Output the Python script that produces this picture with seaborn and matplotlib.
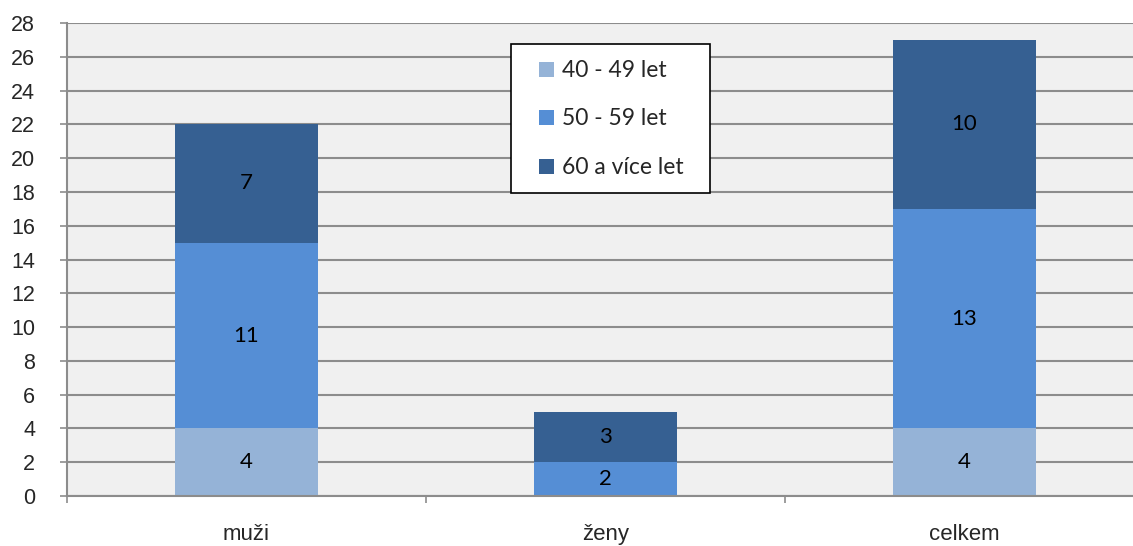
import matplotlib
matplotlib.use("Agg")
import matplotlib.pyplot as plt
from matplotlib.lines import Line2D
import seaborn as sns
import numpy as np

categories = ["muži", "ženy", "celkem"]
series_names = ["40 - 49 let", "50 - 59 let", "60 a více let"]
v_40_49 = [4, 0, 4]
v_50_59 = [11, 2, 13]
v_60 = [7, 3, 10]
y_ticks = list(range(0, 29, 2))

colors = ["#95B3D7", "#558ED5", "#366092"]

sns.set_theme(style="white")
plt.rcParams["font.family"] = ["Liberation Sans", "DejaVu Sans"]

fig = plt.figure(figsize=(11.33, 5.46), dpi=100)
ax = fig.add_axes([67/1133, 50/546, (1144-67)/1133, (496-23)/546])
ax.set_facecolor("#F0F0F0")

bottom = np.zeros(len(categories))
for name, vals, col in zip(series_names, [v_40_49, v_50_59, v_60], colors):
    sns.barplot(x=categories, y=vals, bottom=bottom, color=col, width=0.4,
                ax=ax, linewidth=0, saturation=1)
    cont = ax.containers[-1]
    labels = [str(v) if v > 0 else "" for v in vals]
    ax.bar_label(cont, labels=labels, label_type="center", fontsize=16,
                 color="black", family=["Lato", "DejaVu Sans"])
    bottom = bottom + np.array(vals)

ax.set_xlim(-0.5, 2.5)
ax.set_ylim(0, 28)
ax.set_yticks(y_ticks)
ax.set_yticklabels([str(t) for t in y_ticks], fontsize=15.5)
ax.yaxis.grid(True, color="#8C8C8C", linewidth=1.5)
ax.set_axisbelow(True)
ax.tick_params(axis="y", length=5, width=1.2, color="#8C8C8C", direction="out", left=True, pad=18)
ax.set_xticks([0, 1, 2])
ax.set_xticklabels(categories, fontsize=16)
ax.set_xticks([-0.5, 0.5, 1.5, 2.5], minor=True)
ax.tick_params(axis="x", which="major", length=0, pad=20)
ax.tick_params(axis="x", which="minor", length=5, width=1.2, color="#8C8C8C", direction="out", bottom=True)
for s in ["top", "right"]:
    ax.spines[s].set_visible(False)
for s in ["left", "bottom"]:
    ax.spines[s].set_color("#8C8C8C")
    ax.spines[s].set_linewidth(1.5)
ax.set_xlabel("")
ax.set_ylabel("")

handles = [Line2D([], [], linestyle="none", marker="s", markersize=10.8,
                  markerfacecolor=c, markeredgewidth=0) for c in colors]
x0 = (511 - 67) / 1077
w = (710 - 511) / 1077
ytop = (496 - 44) / 473
leg = ax.legend(handles, series_names, loc="upper left",
                bbox_to_anchor=(x0, ytop - 0.3, w, 0.3), mode="expand",
                frameon=True, fancybox=False, edgecolor="black", facecolor="white",
                framealpha=1, prop={"family": ["Lato", "DejaVu Sans"], "size": 16.5},
                handlelength=1.68, handletextpad=-0.15,
                labelspacing=1.2, borderpad=0.68, borderaxespad=0)
leg.get_frame().set_linewidth(1.2)

fig.savefig("out.png", dpi=100)
